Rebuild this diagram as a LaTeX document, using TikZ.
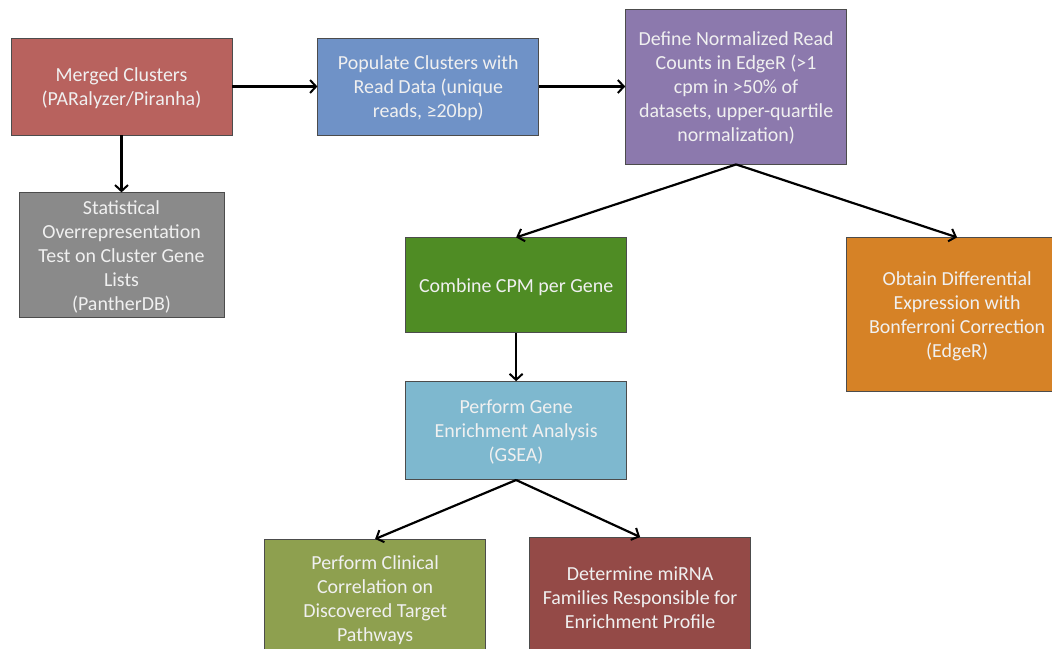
\documentclass[tikz,border=0pt]{standalone}
\usepackage{fontspec}
\setmainfont{Carlito}
\usetikzlibrary{arrows.meta,positioning}
\definecolor{mergedred}{RGB}{184,98,94}
\definecolor{populateblue}{RGB}{111,146,199}
\definecolor{definepurple}{RGB}{140,121,173}
\definecolor{statgray}{RGB}{138,138,138}
\definecolor{combinegreen}{RGB}{79,140,36}
\definecolor{obtainorange}{RGB}{214,130,38}
\definecolor{gsealight}{RGB}{126,184,207}
\definecolor{clinicalolive}{RGB}{142,160,79}
\definecolor{mirnared}{RGB}{148,74,71}
\tikzset{
    stepbox/.style={rectangle,draw=black!70,line width=0.8bp,align=center,text=white!94!black,
        font=\fontsize{20}{24}\selectfont,text depth=-7bp,minimum width=221bp,minimum height=97bp,inner sep=2bp},
    flowline/.style={-{Straight Barb[length=6bp,width=13bp,line width=2bp]},line width=2.2bp}
}
\begin{document}
\begin{tikzpicture}[x=1bp,y=1bp,node distance=57bp]
            \clip (0,0) rectangle (1052,-649);
            \node[stepbox,fill=mergedred] (merged) at (121.5,-86.5) {Merged Clusters\\(PARalyzer/Piranha)};
            \node[stepbox,fill=populateblue,right=85bp of merged] (populate) {Populate Clusters with\\Read Data (unique\\reads, ≥20bp)};
            \node[stepbox,fill=definepurple,minimum height=155bp,right=86bp of populate] (define) {Define Normalized Read\\Counts in EdgeR (>1\\cpm in >50\% of\\datasets, upper-quartile\\normalization)};
            \node[stepbox,fill=statgray,minimum width=205bp,minimum height=125bp,below=of merged] (stat) {Statistical\\Overrepresentation\\Test on Cluster Gene\\Lists\\(PantherDB)};
            \node[stepbox,fill=combinegreen,minimum height=95bp,below=73bp of define,xshift=-220bp] (combine) {Combine CPM per Gene};
            \node[stepbox,fill=obtainorange,minimum height=154bp,below=73bp of define,xshift=221bp] (obtain) {Obtain Differential\\Expression with\\Bonferroni Correction\\(EdgeR)};
            \node[stepbox,fill=gsealight,minimum height=98bp,below=48bp of combine] (gsea) {Perform Gene\\Enrichment Analysis\\(GSEA)};
            \node[stepbox,fill=clinicalolive,minimum height=118bp,below=59bp of gsea,xshift=-141bp] (clinical) {Perform Clinical\\Correlation on\\Discovered Target\\Pathways};
            \node[stepbox,fill=mirnared,minimum height=120bp,below=of gsea,xshift=124bp] (mirna) {Determine miRNA\\Families Responsible for\\Enrichment Profile};
            \draw[flowline] (merged) -- (populate);
            \draw[flowline] (populate) -- (define);
            \draw[flowline] (merged) -- (stat);
            \draw[flowline] (define.south) -- (combine.north);
            \draw[flowline] (define.south) -- (obtain.north);
            \draw[flowline] (combine) -- (gsea);
            \draw[flowline] (gsea.south) -- (clinical.north);
            \draw[flowline] (gsea.south) -- (mirna.north);
        \end{tikzpicture}
\end{document}
